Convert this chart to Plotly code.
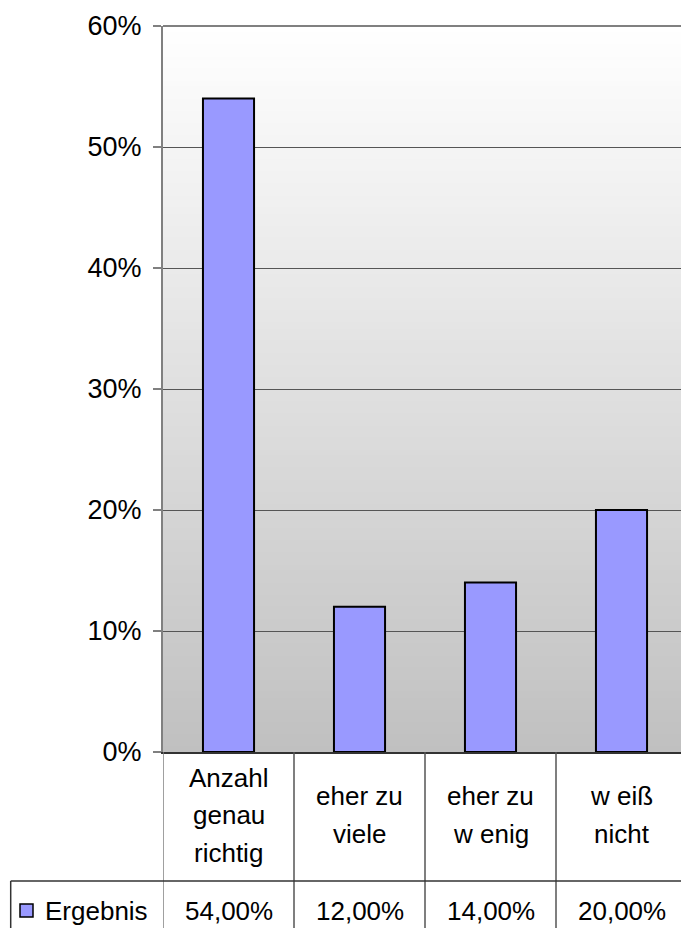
import plotly.graph_objects as go

# Survey result: share of answers per option
categories = ["Anzahl<br>genau<br>richtig", "eher zu<br>viele", "eher zu<br>w enig", "w eiß<br>nicht"]
values = [54, 12, 14, 20]
series_name = "Ergebnis"
y_ticks = [0, 10, 20, 30, 40, 50, 60]

W, H = 681, 928
M_L, M_R, M_T, M_B = 163, 0, 26, 176
PLOT_W = W - M_L - M_R
PLOT_H = H - M_T - M_B
CAT_PX = 131.0  # width of one category column in pixels

BAR_COLOR = "#9999ff"
FONT = "Liberation Sans, Arial, sans-serif"
FS = 26

x_idx = list(range(len(categories)))
x_max = -0.5 + PLOT_W / CAT_PX


def py(pixel_y):
    """Pixel row (from top) to paper y."""
    return (H - M_B - pixel_y) / PLOT_H


def px(pixel_x):
    """Pixel column (from left) to paper x."""
    return (pixel_x - M_L) / PLOT_W


fig = go.Figure()
fig.add_trace(go.Bar(
    x=x_idx, y=values, width=0.39, name=series_name,
    marker=dict(color=BAR_COLOR, line=dict(color="black", width=2)),
    showlegend=False, hoverinfo="skip",
))

shapes = []
# vertical grey gradient behind the plot area (white at top, silver at bottom)
n_bands = 120
for i in range(n_bands):
    f0 = i / n_bands
    f1 = (i + 1) / n_bands
    g = int(round(192 + (255 - 192) * (f0 + f1) / 2))
    shapes.append(dict(
        type="rect", xref="paper", yref="paper", x0=0, x1=1,
        y0=f0, y1=min(1, f1 + 0.002), layer="below",
        fillcolor=f"rgb({g},{g},{g})", line=dict(width=0),
    ))

# top border of the plot area
shapes.append(dict(type="line", xref="paper", yref="paper", x0=0, x1=1, y0=1, y1=1,
                   line=dict(color="#808080", width=2), layer="above"))

# data table below the chart
grid_col = "#555555"
bottom = py(H + 10)
for b in [-0.5 + k for k in range(len(categories))]:
    shapes.append(dict(type="line", xref="x", yref="paper", x0=b, x1=b, y0=0, y1=bottom,
                       line=dict(color=grid_col if b > -0.5 else "#808080", width=1.5)))
shapes.append(dict(type="line", xref="paper", yref="paper", x0=px(10.7), x1=1,
                   y0=py(881), y1=py(881), line=dict(color="#333333", width=1.5)))
shapes.append(dict(type="line", xref="paper", yref="paper", x0=px(10.7), x1=px(10.7),
                   y0=py(881), y1=bottom, line=dict(color="#333333", width=1.5)))
# legend key
shapes.append(dict(type="rect", xref="paper", yref="paper", x0=px(20), x1=px(33),
                   y0=py(917), y1=py(904), fillcolor=BAR_COLOR,
                   line=dict(color="black", width=1.5)))

annotations = []
# category labels in the table header row
line_h = 37.5
for i, cat in enumerate(categories):
    lines = cat.split("<br>")
    n = len(lines)
    for j, t in enumerate(lines):
        yc = 815 + (j - (n - 1) / 2) * line_h
        annotations.append(dict(x=i, y=py(yc), xref="x", yref="paper", text=t,
                                showarrow=False, xanchor="center", yanchor="middle",
                                font=dict(family=FONT, size=FS, color="black")))
# value row
annotations.append(dict(x=px(43), y=py(911), xref="paper", yref="paper", text=series_name,
                        showarrow=False, xanchor="left", yanchor="middle",
                        font=dict(family=FONT, size=FS, color="black")))
for i, v in enumerate(values):
    label = f"{v:.2f}%".replace(".", ",")
    annotations.append(dict(x=i, y=py(911), xref="x", yref="paper", text=label,
                            showarrow=False, xanchor="center", yanchor="middle",
                            font=dict(family=FONT, size=FS, color="black")))

fig.update_layout(
    width=W, height=H,
    margin=dict(l=M_L, r=M_R, t=M_T, b=M_B, pad=0),
    paper_bgcolor="white", plot_bgcolor="#c0c0c0",
    font=dict(family=FONT, size=FS, color="black"),
    bargap=0.6,
    shapes=shapes, annotations=annotations,
    xaxis=dict(range=[-0.5, x_max], showticklabels=False, ticks="", showgrid=False,
               zeroline=False, showline=True, linecolor="#333333", linewidth=2,
               fixedrange=True),
    yaxis=dict(range=[0, 60], tickvals=y_ticks, ticktext=[f"{t}%" for t in y_ticks],
               showgrid=True, gridcolor="#555555", gridwidth=1, zeroline=False,
               showline=True, linecolor="#808080", linewidth=2,
               ticks="outside", ticklen=8, tickcolor="#808080", tickwidth=1.5,
               ticklabelstandoff=6,
               tickfont=dict(family=FONT, size=27, color="black"), fixedrange=True),
)

fig.write_html("out.html", config={"displayModeBar": False})
